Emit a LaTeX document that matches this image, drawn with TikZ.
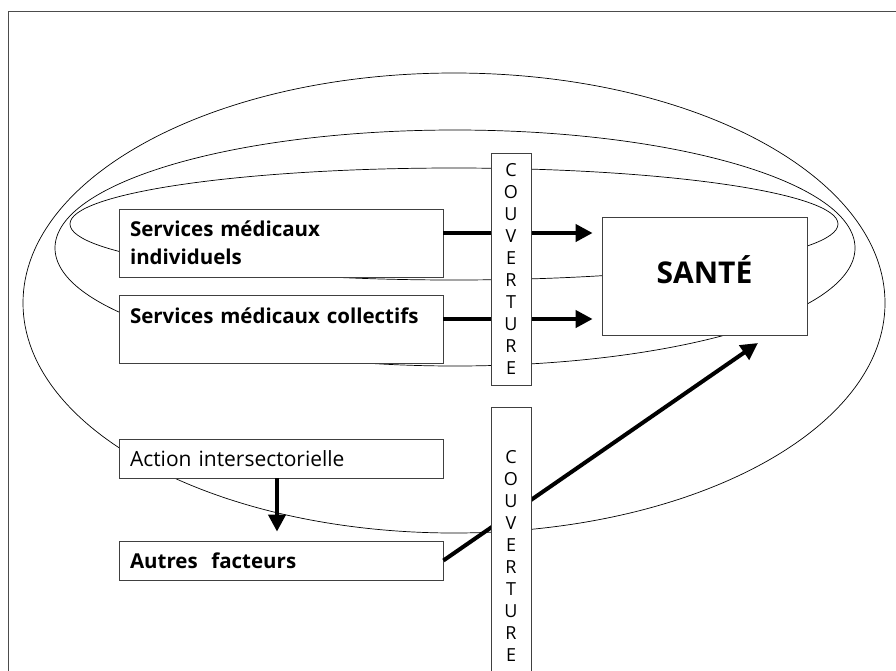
\documentclass[tikz,border=0pt]{standalone}
\usepackage{fontspec}
\setmainfont{Open Sans}
\usetikzlibrary{arrows.meta}

\begin{document}
\begin{tikzpicture}[x=1pt,y=-1pt,
    boite/.style={draw=black!75,line width=0.8pt,fill=white,inner xsep=11pt,
      text width=302pt,align=left,font=\fontsize{21}{28}\selectfont},
    gras/.style={font=\fontsize{20.5}{28}\selectfont\bfseries},
    couv/.style={draw=black!75,line width=0.8pt,fill=white,minimum width=40pt,
      inner sep=0pt,align=center,font=\fontsize{18}{22}\selectfont},
    fleche/.style={line width=4pt,-{Triangle[length=17pt,width=17pt]}}]
	\useasboundingbox (0,0) rectangle (896,670);
	\clip (0,0) rectangle (896,670);
	\draw[black!70,line width=0.8pt] (8,11) rectangle (920,700);

	\draw[line width=0.7pt] (454,303) ellipse [x radius=431pt, y radius=230pt];
	\draw[line width=0.7pt] (455,248) ellipse [x radius=400pt, y radius=118pt];
	\draw[line width=0.7pt] (454,224) ellipse [x radius=384pt, y radius=56pt];

	\node[boite,gras,minimum height=68pt] (indiv) at (281,243) {Services médicaux\\individuels};
	\node[boite,gras,minimum height=68pt] (coll) at (281,329.5) {Services médicaux collectifs\\\mbox{}};
	\node[boite,minimum height=39pt] (action) at (281,458.5) {Action intersectorielle};
	\node[boite,gras,minimum height=39pt] (autres) at (281,560.5) {Autres~~facteurs};
	\node[draw=black!75,line width=0.8pt,fill=white,minimum width=205pt,minimum height=118pt,
	  text height=22pt,text depth=8pt,font=\fontsize{30}{36}\selectfont\bfseries] (sante) at (704.5,276) {SANTÉ};

	\coordinate (pointe) at (758,343);
	\draw[fleche,shorten >=9pt] ([yshift=10pt]indiv.east) -- ([yshift=10pt]indiv.east -| sante.west);
	\draw[fleche,shorten >=9pt] ([yshift=10.5pt]coll.east) -- ([yshift=10.5pt]coll.east -| sante.west);
	\draw[fleche,shorten >=9pt] ([xshift=-4pt]action.south) -- ([xshift=-4pt]autres.north);
	\draw[fleche] (autres.east) -- (pointe);

	\node[couv,minimum height=232pt] (couv1) at (511,269) {C\\O\\U\\V\\E\\R\\T\\U\\R\\E};
	\node[couv,minimum height=298pt] (couv2) at (511,556) {C\\O\\U\\V\\E\\R\\T\\U\\R\\E};
\end{tikzpicture}
\end{document}
